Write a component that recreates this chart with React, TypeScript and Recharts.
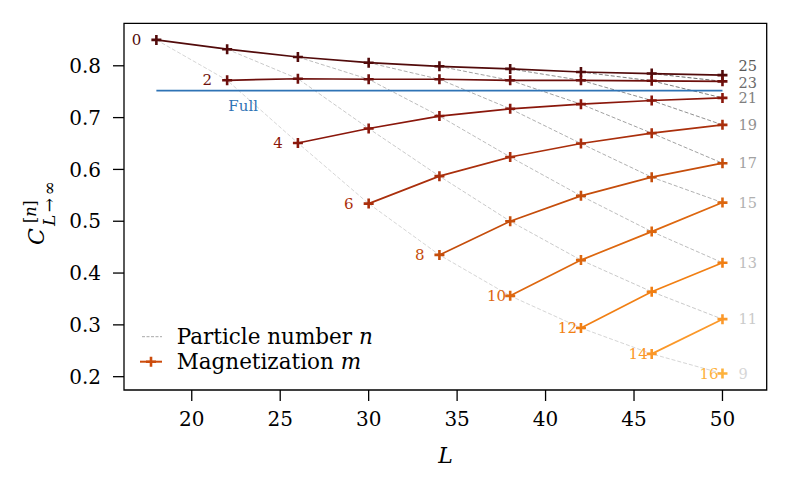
import React from 'react'
import { LineChart, Line, XAxis, YAxis, ReferenceArea } from 'recharts'

// system sizes L, magnetization sectors m, particle-number sectors n
const L_VALUES = [18, 22, 26, 30, 34, 38, 42, 46, 50]
const M_VALUES = [0, 2, 4, 6, 8, 10, 12, 14, 16]
const N_VALUES = [9, 11, 13, 15, 17, 19, 21, 23, 25]
const X_TICKS = [20, 25, 30, 35, 40, 45, 50]
const Y_TICKS = [0.2, 0.3, 0.4, 0.5, 0.6, 0.7, 0.8]

// C values per magnetization sector, starting at L = 18 + 2m
const C_M0 = [0.85, 0.832, 0.817, 0.806, 0.799, 0.794, 0.788, 0.785, 0.782]
const C_M2 = [0.772, 0.775, 0.774, 0.774, 0.772, 0.772, 0.771, 0.77]
const C_M4 = [0.651, 0.679, 0.703, 0.717, 0.726, 0.733, 0.738]
const C_M6 = [0.534, 0.587, 0.624, 0.65, 0.67, 0.686]
const C_M8 = [0.435, 0.5, 0.549, 0.585, 0.612]
const C_M10 = [0.356, 0.425, 0.48, 0.536]
const C_M12 = [0.294, 0.364, 0.42]
const C_M14 = [0.244, 0.311]
const C_M16 = [0.206]
const C_BY_M = [C_M0, C_M2, C_M4, C_M6, C_M8, C_M10, C_M12, C_M14, C_M16]

const FULL_VALUE = 0.752
const FULL_RANGE = [18, 50]

const X_DOMAIN: [number, number] = [16.17, 52.5]
const Y_DOMAIN: [number, number] = [0.1743, 0.882]

const M_COLORS = ['#520b0b', '#6d0f0c', '#8a170b', '#aa2f0c', '#c54d0b', '#dd670f', '#f17f13', '#fb9829', '#fdb23d']
const N_COLORS = ['#d6d6d6', '#cacaca', '#bdbdbd', '#b0b0b0', '#a1a1a1', '#919191', '#7f7f7f', '#6c6c6c', '#585858']
const N_LABEL_NUDGE = [0, 0, 0, 0, 0, 0, 0, 1.5, -9]

const SERIF = 'DejaVu Serif'
const W = 774
const H = 474

const mSeries = M_VALUES.map((m, i) => ({
  m,
  color: M_COLORS[i],
  points: C_BY_M[i].map((c, j) => ({ L: L_VALUES[i + j], c })),
}))

// fixed n = L/2 - m runs diagonally through the m sectors
const nSeries = N_VALUES.map((n, k) => ({
  n,
  color: N_COLORS[k],
  nudge: N_LABEL_NUDGE[k],
  points: C_BY_M.slice(0, C_BY_M.length - k).map((vals, i) => ({ L: L_VALUES[i + k], c: vals[k] })),
}))

const fullPoints = FULL_RANGE.map((L) => ({ L, c: FULL_VALUE }))

function plus(cx: number, cy: number, color: string, r = 5) {
  return (
    <path
      d={`M${cx - r},${cy}H${cx + r}M${cx},${cy - r}V${cy + r}`}
      stroke={color}
      strokeWidth={2.6}
      fill="none"
    />
  )
}

export default function App() {
  return (
    <div style={{ position: 'relative', width: W, height: H }}>
      <LineChart width={W} height={H} margin={{ top: 15.3, right: 15.3, left: 0, bottom: 32 }}>
        <XAxis
          dataKey="L"
          type="number"
          domain={X_DOMAIN}
          allowDataOverflow
          ticks={X_TICKS}
          height={60}
          axisLine={false}
          tickSize={11}
          tickMargin={11}
          tickLine={{ stroke: '#000', strokeWidth: 1.3 }}
          tick={{ fontSize: 20, fill: '#000', fontFamily: SERIF }}
        />
        <YAxis
          type="number"
          domain={Y_DOMAIN}
          allowDataOverflow
          ticks={Y_TICKS}
          width={116}
          axisLine={false}
          tickSize={11}
          tickMargin={12}
          tickLine={{ stroke: '#000', strokeWidth: 1.3 }}
          tick={{ fontSize: 20, fill: '#000', fontFamily: SERIF }}
          tickFormatter={(v: number) => v.toFixed(1)}
        />
        {nSeries.map((s) => (
          <Line
            key={`n${s.n}`}
            data={s.points}
            dataKey="c"
            stroke={s.color}
            strokeWidth={1}
            strokeDasharray="4 2"
            isAnimationActive={false}
            activeDot={false}
            dot={(p: any) => (
              <g key={`nd${s.n}-${p.index}`}>
                {p.index === s.points.length - 1 && (
                  <text
                    x={p.cx + 16}
                    y={p.cy + s.nudge}
                    fill={s.color}
                    fontSize={14.5}
                    fontFamily={SERIF}
                    dominantBaseline="central"
                  >
                    {s.n}
                  </text>
                )}
              </g>
            )}
          />
        ))}
        <Line
          data={fullPoints}
          dataKey="c"
          stroke="#2e73b5"
          strokeWidth={1.6}
          isAnimationActive={false}
          activeDot={false}
          dot={(p: any) => (
            <g key={`fd-${p.index}`}>
              {p.index === 0 && (
                <text x={p.cx + 72} y={p.cy + 15} fill="#2e73b5" fontSize={15} fontFamily={SERIF} dominantBaseline="central">
                  Full
                </text>
              )}
            </g>
          )}
        />
        {mSeries.map((s) => (
          <Line
            key={`m${s.m}`}
            data={s.points}
            dataKey="c"
            stroke={s.color}
            strokeWidth={1.7}
            isAnimationActive={false}
            activeDot={false}
            dot={(p: any) => (
              <g key={`md${s.m}-${p.index}`}>
                {plus(p.cx, p.cy, s.color)}
                {p.index === 0 && (
                  <text
                    x={p.cx - (String(s.m).length > 1 ? 4 : 15)}
                    y={p.cy}
                    fill={s.color}
                    fontSize={15}
                    fontFamily={SERIF}
                    textAnchor="end"
                    dominantBaseline="central"
                  >
                    {s.m}
                  </text>
                )}
              </g>
            )}
          />
        ))}
        <ReferenceArea
          x1={X_DOMAIN[0]}
          x2={X_DOMAIN[1]}
          y1={Y_DOMAIN[0]}
          y2={Y_DOMAIN[1]}
          fill="none"
          fillOpacity={0}
          stroke="#000"
          strokeWidth={1.3}
          ifOverflow="visible"
        />
      </LineChart>
      <svg width={W} height={H} style={{ position: 'absolute', left: 0, top: 0, pointerEvents: 'none' }}>
        {/* legend */}
        <line x1={134} x2={154} y1={328.7} y2={328.7} stroke="#a8a8a8" strokeWidth={1} strokeDasharray="3 1.5" />
        <text x={168.7} y={335.5} fontSize={21.5} fontFamily={SERIF} fill="#000">
          Particle number <tspan fontStyle="italic">n</tspan>
        </text>
        <line x1={132} x2={154} y1={353.7} y2={353.7} stroke="#cc4c0c" strokeWidth={2} />
        {plus(143, 353.7, '#cc4c0c')}
        <text x={168.7} y={361} fontSize={21.5} fontFamily={SERIF} fill="#000">
          Magnetization <tspan fontStyle="italic">m</tspan>
        </text>
        {/* axis labels */}
        <text x={437.5} y={454.7} fontSize={22} fontFamily={SERIF} fontStyle="italic" textAnchor="middle" fill="#000">
          L
        </text>
        <g transform="translate(36,237) rotate(-90)">
          <text x={0} y={0} fontSize={22} fontFamily={SERIF} fontStyle="italic" fill="#000">
            C
          </text>
          <text x={19} y={11} fontSize={17} fontFamily={SERIF} fill="#000" letterSpacing={2.5}>
            <tspan fontStyle="italic">L</tspan>→∞
          </text>
          <text x={22} y={-8} fontSize={16} fontFamily={SERIF} fill="#000">
            [<tspan fontStyle="italic">n</tspan>]
          </text>
        </g>
      </svg>
    </div>
  )
}
